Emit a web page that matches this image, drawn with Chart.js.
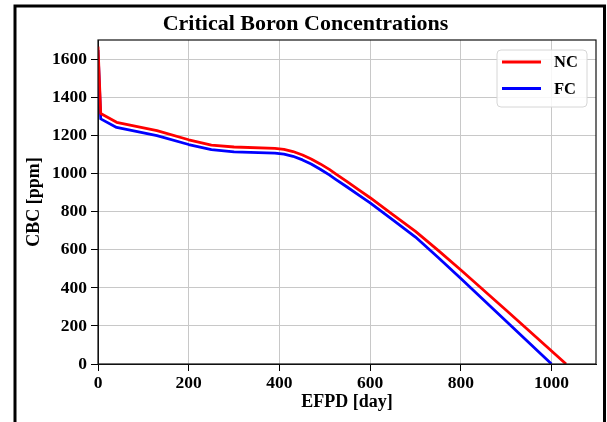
<!DOCTYPE html>
<html><head><meta charset="utf-8">
<script src="https://cdn.jsdelivr.net/npm/chart.js@4"></script>
<style>html,body{margin:0;padding:0;background:#fff}#wrap{width:607px;height:422px}</style>
</head><body><div id="wrap"><canvas id="c" width="607" height="422"></canvas></div>
<script>
// ---- data ----
const chartTitle = 'Critical Boron Concentrations';
const xTitle = 'EFPD [day]';
const yTitle = 'CBC [ppm]';
const seriesLabels = ['NC', 'FC'];
const seriesColors = ['#ff0000', '#0000ff'];
const ncDays = [0, 6, 41, 130, 200, 250, 300, 390, 410, 430, 451, 470, 490, 510, 524, 550, 575, 600, 650, 700, 750, 800, 900, 1032];
const ncCBC  = [1670, 1318, 1272, 1228, 1180, 1152, 1142, 1135, 1129, 1118, 1100, 1079, 1053, 1024, 1001, 958, 916, 875, 786, 698, 598, 495, 283, 0];
const fcDays = [0, 6, 41, 130, 200, 250, 300, 390, 410, 430, 451, 470, 490, 510, 524, 550, 575, 600, 650, 700, 750, 800, 900, 1000];
const fcCBC  = [1652, 1290, 1245, 1202, 1155, 1128, 1116, 1110, 1104, 1093, 1074, 1052, 1025, 995, 972, 930, 889, 848, 758, 668, 560, 450, 225, 0];
const xTicks = [0, 200, 400, 600, 800, 1000];
const yTicks = [0, 200, 400, 600, 800, 1000, 1200, 1400, 1600];

const FONT = "'Liberation Serif', 'Times New Roman', serif";
const toPts = (xs, ys) => xs.map((x, i) => ({x: x, y: ys[i]}));

const framePlugin = {
  id: 'frame',
  afterDraw(chart) {
    const ctx = chart.ctx, a = chart.chartArea;
    ctx.save();
    // plot spines
    ctx.strokeStyle = '#111';
    ctx.lineWidth = 1.2;
    ctx.strokeRect(a.left, a.top, a.right - a.left, a.bottom - a.top);
    // outer black frame
    ctx.strokeStyle = '#000';
    ctx.lineWidth = 3;
    ctx.strokeRect(15, 6, 589.5, 430);
    // legend box
    const w = 90, h = 57;
    const x0 = a.right - 9 - w, y0 = a.top + 10;
    ctx.beginPath();
    if (ctx.roundRect) ctx.roundRect(x0, y0, w, h, 4); else ctx.rect(x0, y0, w, h);
    ctx.fillStyle = 'rgba(255,255,255,0.85)';
    ctx.fill();
    ctx.strokeStyle = '#d6d6d6';
    ctx.lineWidth = 1;
    ctx.stroke();
    chart.data.datasets.forEach((ds, i) => {
      const y = y0 + 12 + i * 26.5;
      ctx.beginPath();
      ctx.moveTo(x0 + 5, y);
      ctx.lineTo(x0 + 44, y);
      ctx.strokeStyle = ds.borderColor;
      ctx.lineWidth = 3;
      ctx.stroke();
      ctx.fillStyle = '#000';
      ctx.font = 'bold 16.5px ' + FONT;
      ctx.textBaseline = 'middle';
      ctx.textAlign = 'left';
      ctx.fillText(ds.label, x0 + 57, y + 1);
    });
    ctx.restore();
  }
};

const plain = v => String(v);

new Chart(document.getElementById('c'), {
  type: 'line',
  data: {
    datasets: [
      {label: seriesLabels[0], data: toPts(ncDays, ncCBC), borderColor: seriesColors[0], backgroundColor: seriesColors[0], borderWidth: 2.8, pointRadius: 0, tension: 0, borderJoinStyle: 'round', fill: false},
      {label: seriesLabels[1], data: toPts(fcDays, fcCBC), borderColor: seriesColors[1], backgroundColor: seriesColors[1], borderWidth: 2.8, pointRadius: 0, tension: 0, borderJoinStyle: 'round', fill: false}
    ]
  },
  options: {
    responsive: false,
    animation: false,
    devicePixelRatio: 1,
    layout: {padding: {left: 15, right: 11, top: 0, bottom: 0}},
    plugins: {
      legend: {display: false},
      tooltip: {enabled: false},
      title: {display: true, text: chartTitle, color: '#000', font: {family: FONT, size: 22, weight: 'bold', lineHeight: 1.2}, padding: {top: 11, bottom: 2.6}}
    },
    scales: {
      x: {
        type: 'linear', min: 0, max: 1098,
        afterBuildTicks: s => { s.ticks = xTicks.map(v => ({value: v})); },
        afterFit: s => { s.height = 58; },
        ticks: {color: '#000', font: {family: FONT, size: 17.5, weight: 'bold'}, padding: 2, maxRotation: 0, autoSkip: false, callback: plain},
        grid: {color: '#c8c8c8', lineWidth: 1, tickColor: '#000', tickLength: 7, drawTicks: true},
        border: {display: true, color: '#111', width: 1},
        title: {display: true, text: xTitle, color: '#000', font: {family: FONT, size: 18, weight: 'bold', lineHeight: 1.2}, padding: {top: 0, bottom: 8.6}}
      },
      y: {
        type: 'linear', min: 0, max: 1705,
        afterBuildTicks: s => { s.ticks = yTicks.map(v => ({value: v})); },
        afterFit: s => { s.width = 83; },
        ticks: {color: '#000', font: {family: FONT, size: 17.5, weight: 'bold'}, padding: 4, autoSkip: false, callback: plain},
        grid: {color: '#c8c8c8', lineWidth: 1, tickColor: '#000', tickLength: 7, drawTicks: true},
        border: {display: true, color: '#111', width: 1},
        title: {display: true, text: yTitle, color: '#000', font: {family: FONT, size: 18, weight: 'bold', lineHeight: 1.2}, padding: {top: 8.6, bottom: 0}}
      }
    }
  },
  plugins: [framePlugin]
});
</script>
</body></html>
